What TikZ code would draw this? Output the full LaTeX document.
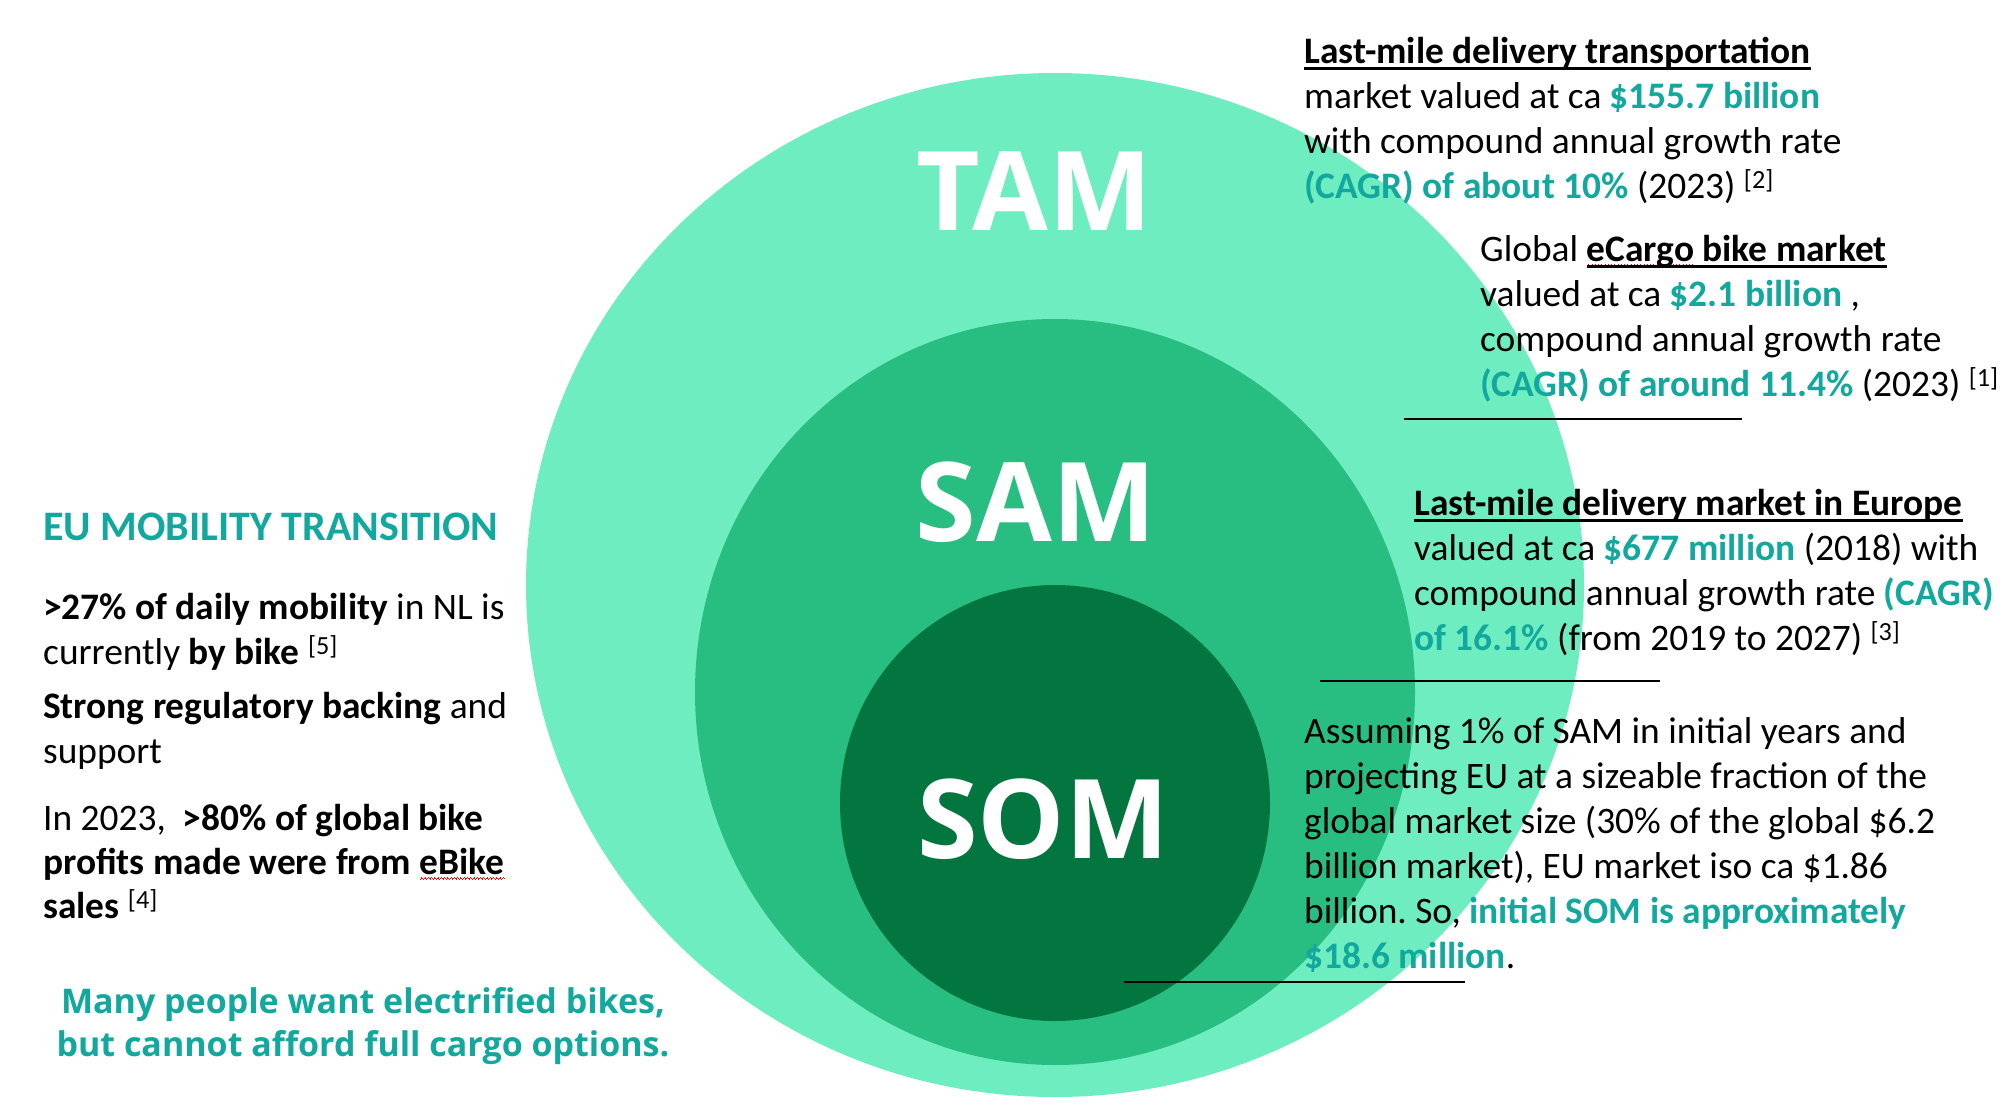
\documentclass[tikz,border=0pt]{standalone}
\usepackage{fontspec}
\setmainfont{Carlito}
\newfontfamily\headfont{Open Sans}
\frenchspacing
\newlength\wavelen
\newcommand\ulbar[1]{\setbox0\hbox{#1}\rlap{\rule[-6.5pt]{\wd0}{2.5pt}}\box0}
\newcommand\wavebelow[1]{\settowidth\wavelen{#1}\rlap{\color{red}\hbox to \wavelen{\xleaders\hbox{\rule[-5.6pt]{0.8pt}{0.9pt}\rule[-4.8pt]{0.8pt}{0.9pt}\rule[-4.0pt]{0.8pt}{0.9pt}\rule[-4.8pt]{0.8pt}{0.9pt}}\hfil}}}
\definecolor{tamc}{HTML}{6EEEC0}
\definecolor{samc}{HTML}{28BE81}
\definecolor{somc}{HTML}{037640}
\definecolor{tealtext}{HTML}{13A89D}
\newcommand\hl[1]{\textcolor{tealtext}{\bfseries #1}}
\begin{document}
\begin{tikzpicture}[x=1pt,y=-1pt,
  body/.style={inner sep=0pt, anchor=base west, align=left, font=\fontsize{37.4}{45}\selectfont},
  sepline/.style={line width=2.3pt, black},
  big/.style={text=white, inner sep=0pt, anchor=base, font=\headfont\bfseries\fontsize{110}{110}\selectfont}]
\useasboundingbox[fill=white] (0,0) rectangle (2008,1119);
% circles
\fill[tamc] (1055,585) ellipse [x radius=529, y radius=512];
\fill[samc] (1055,692) ellipse [x radius=360, y radius=373];
\fill[somc] (1055,803) ellipse [x radius=215, y radius=218];
% labels
\node[big] (tam) at (1034,230) {TAM};
\node[big] (sam) at (1036,541) {SAM};
\node[big] (som) at (1043,858) {SOM};
% separator lines
\coordinate (s1a) at (1404,419); \coordinate (s1b) at (1742,419);
\coordinate (s2a) at (1320,681); \coordinate (s2b) at (1660,681);
\coordinate (s3a) at (1124,982); \coordinate (s3b) at (1465,982);
\draw[sepline] (s1a) -- (s1b);
\draw[sepline] (s2a) -- (s2b);
\draw[sepline] (s3a) -- (s3b);
% right text blocks (anchor = baseline of the last line)
\node[body] (blockA) at (1304,198) {{\bfseries\ulbar{Last-mile delivery transportation}}\\
market valued at ca \hl{\$155.7 billion}\\
with compound annual growth rate\\
\hl{(CAGR) of about 10\%} (2023) \textsuperscript{[2]}};
\node[body] (blockB) at (1480,396) {Global {\bfseries\wavebelow{eCargo}\ulbar{eCargo bike market}}\\
valued at ca \hl{\$2.1 billion} ,\\
compound annual growth rate\\
\hl{(CAGR) of around 11.4\%} (2023) \textsuperscript{[1]}};
\node[body] (blockC) at (1414,650) {{\bfseries\ulbar{Last-mile delivery market in Europe}}\\
valued at ca \hl{\$677 million} (2018) with\\
compound annual growth rate \hl{(CAGR)}\\
\hl{of 16.1\%} (from 2019 to 2027) \textsuperscript{[3]}};
\node[body] (blockD) at (1304,968) {Assuming 1\% of SAM in initial years and\\
projecting EU at a sizeable fraction of the\\
global market size (30\% of the global \$6.2\\
billion market), EU market iso ca \$1.86\\
billion. So, \hl{initial SOM is approximately}\\
\hl{\$18.6 million}.};
% left text
\node[body, text=tealtext, font=\bfseries\fontsize{42}{48}\selectfont] (eu) at (43,540) {EU MOBILITY TRANSITION};
\node[body] (p1) at (43,664) {{\bfseries >27\% of daily mobility} in NL is\\
currently {\bfseries by bike} \textsuperscript{[5]}};
\node[body] (p2) at (43,763) {{\bfseries Strong regulatory backing} and\\
support};
\node[body, font=\fontsize{37.4}{44}\selectfont] (p3) at (43,918) {In 2023,\ \ {\bfseries >80\% of global bike}\\
{\bfseries profits made were from \wavebelow{eBike}eBike}\\
{\bfseries sales} \textsuperscript{[4]}};
\node[inner sep=0pt, anchor=base, align=center, text=tealtext, font=\headfont\bfseries\fontsize{34}{43}\selectfont] (many) at (363,1056) {Many people want electrified bikes,\\
but cannot afford full cargo options.};
\end{tikzpicture}
\end{document}
